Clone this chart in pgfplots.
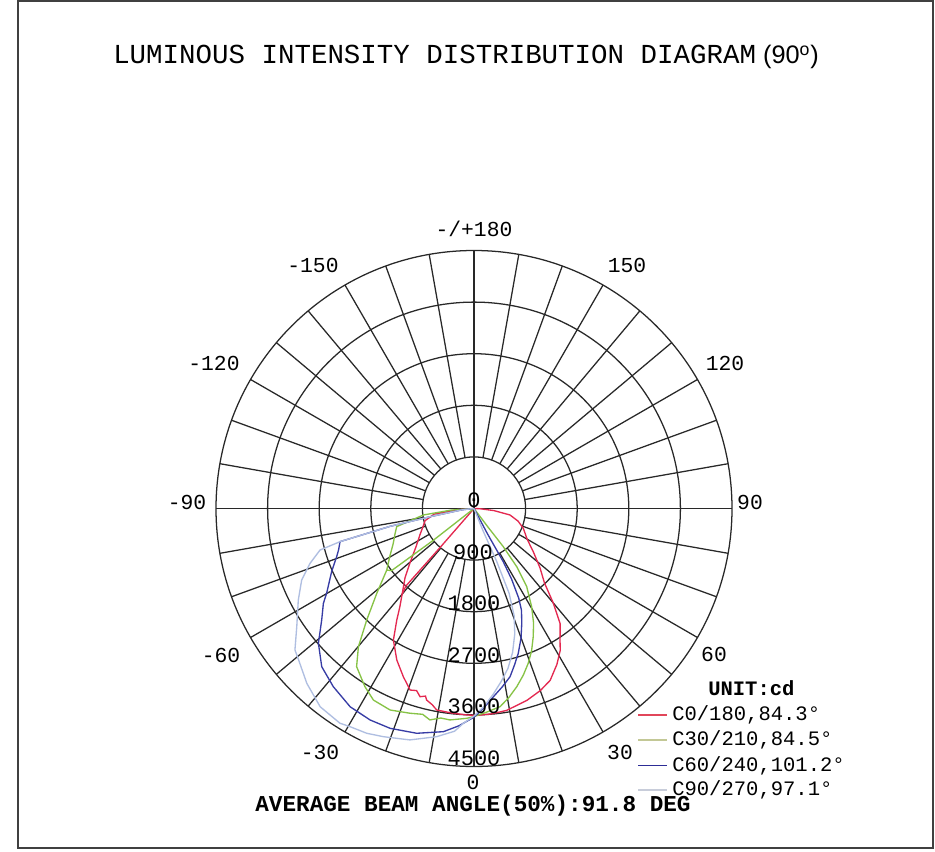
\documentclass[border=0pt]{standalone}
\usepackage{pgfplots}
\pgfplotsset{compat=1.18}
\usepackage{pgfplotstable}
\usepackage{fontspec}
\setmainfont{Liberation Sans}
\setmonofont{Liberation Mono}

\definecolor{cred}{RGB}{228,40,80}
\definecolor{cgreen}{RGB}{135,195,70}
\definecolor{cblue}{RGB}{55,60,165}
\definecolor{cpale}{RGB}{175,190,225}
\definecolor{lgred}{RGB}{225,70,90}
\definecolor{lggreen}{RGB}{195,200,150}
\definecolor{lgblue}{RGB}{45,45,150}
\definecolor{lgpale}{RGB}{200,205,218}
\definecolor{gridc}{RGB}{40,40,40}

% angle a (deg, 0 = downward, positive to the right), intensity r (cd)
\pgfplotstableread{
a r
-90 0
-86 300
-82 700
-76 880
-70 950
-64 1050
-57 1200
-50 1450
-45 1700
-40 1950
-37 2150
-34.7 2366
-31.5 2691
-27 2966
-22.8 3182
-19.4 3357
-17.5 3330
-16 3415
-14.5 3380
-13.9 3441
-12 3500
-10.5 3574
-6 3590
-2 3603
0.7 3610
5 3595
9.2 3567
15.4 3472
20 3380
23.9 3279
28 3080
31.3 2895
33.2 2740
35 2620
36.8 2507
40 2150
43.4 1790
48 1550
53.9 1280
60 1070
68.1 927
74 800
79.8 638
84 350
88 100
90 0
}\redtab
\pgfplotstableread{
a r
-41 0
-41 900
-41.3 1800
-40 1950
}\redline
\pgfplotstableread{
a r
-90 0
-86 400
-82.7 891
-76.8 1385
-72 1450
-66.7 1533
-60 1700
-54.8 1862
-48.9 2250
-43.9 2698
-39.9 3143
-36.6 3435
-31.5 3643
-27.7 3774
-22.6 3807
-17.4 3742
-14 3700
-11.8 3767
-9 3700
-6.5 3712
-2 3662
0 3628
3.5 3560
7.5 3486
10.5 3350
13.5 3196
16.5 3030
19.3 2861
22 2680
24.8 2463
27.5 2250
30.4 1986
34 1645
36.3 1259
36.5 1150
37.5 839
37 400
35 0
}\greentab
\pgfplotstableread{
a r
-52 0
-52 900
-53 1800
-54.8 1862
}\greenline
\pgfplotstableread{
a r
-90 0
-84 200
-79.4 781
-78 1500
-76.1 2407
-73 2470
-70.7 2538
-66.1 2716
-60.1 2965
-57.8 3105
-53.8 3292
-49.1 3591
-43.9 3830
-38.3 3960
-32 4077
-26.2 4110
-20.9 4104
-14.3 4046
-7.8 3929
-4 3800
0 3640
3 3470
5.9 3300
9 3150
12.1 3000
14.5 2820
17 2641
20 2400
22.6 2168
25 1960
26.5 1750
28 1400
28.8 1059
28 500
25 0
}\bluetab
\pgfplotstableread{
a r
-90 0
-84 200
-79.4 781
-78 1500
-76.1 2407
-74.9 2782
-71.5 3016
-67.5 3253
-62.5 3455
-56.3 3716
-51.7 3980
-50 4020
-43.7 4220
-37.8 4377
-32 4415
-29.6 4377
-25.5 4344
-21.7 4283
-15.5 4189
-9.3 4033
-5 3900
-2.8 3750
0 3620
3 3450
6 3250
9 3050
12 2850
15 2600
18 2300
20.5 2000
22.5 1600
23.2 1000
22 400
20 0
}\paletab

\begin{document}
\begin{tikzpicture}[x=0.75pt,y=-0.75pt]
\path[fill=white] (0,0) rectangle (935,852);
\draw[line width=0.9pt, black!75] (18,1) rectangle (933,848);

\begin{axis}[at={(355.5pt,-381.375pt)}, anchor=center,
  scale only axis, width=387pt, height=387pt,
  xmin=-4500, xmax=4500, ymin=-4500, ymax=4500,
  hide axis, clip=false]
  % grid
  \pgfplotsinvokeforeach{900,1800,2700,3600,4500}{
    \draw[gridc, line width=0.95pt] (axis cs:0,0) circle[radius=#1];
  }
  \pgfplotsinvokeforeach{0,10,...,350}{
    \draw[gridc, line width=0.95pt] (axis cs:{900*cos(#1)},{900*sin(#1)}) -- (axis cs:{4500*cos(#1)},{4500*sin(#1)});
  }
  \draw[gridc, line width=0.95pt] (axis cs:-4500,0) -- (axis cs:4500,0);
  \draw[gridc, line width=0.95pt] (axis cs:0,-4500) -- (axis cs:0,4500);
  % curves
  \addplot[no marks, cred, line width=1pt] table[x expr={\thisrow{r}*sin(\thisrow{a})}, y expr={-\thisrow{r}*cos(\thisrow{a})}] {\redtab};
  \addplot[no marks, cred, line width=1pt] table[x expr={\thisrow{r}*sin(\thisrow{a})}, y expr={-\thisrow{r}*cos(\thisrow{a})}] {\redline};
  \addplot[no marks, cgreen, line width=1pt] table[x expr={\thisrow{r}*sin(\thisrow{a})}, y expr={-\thisrow{r}*cos(\thisrow{a})}] {\greentab};
  \addplot[no marks, cgreen, line width=1pt] table[x expr={\thisrow{r}*sin(\thisrow{a})}, y expr={-\thisrow{r}*cos(\thisrow{a})}] {\greenline};
  \addplot[no marks, cblue, line width=1pt] table[x expr={\thisrow{r}*sin(\thisrow{a})}, y expr={-\thisrow{r}*cos(\thisrow{a})}] {\bluetab};
  \addplot[no marks, cpale, line width=1pt] table[x expr={\thisrow{r}*sin(\thisrow{a})}, y expr={-\thisrow{r}*cos(\thisrow{a})}] {\paletab};
\end{axis}

% title
\node[anchor=base west, inner sep=0pt] at (113,64) {\fontsize{20.6pt}{24pt}\selectfont\ttfamily LUMINOUS INTENSITY DISTRIBUTION DIAGRAM\fontsize{19pt}{24pt}\selectfont\rmfamily\ (90\textsuperscript{o})};

% angle labels
\begin{scope}[every node/.style={font=\fontsize{16pt}{18pt}\selectfont\ttfamily, inner sep=0pt, anchor=center}]
\node at (474,229) {-/+180};
\node at (313,265) {-150};
\node at (627,265) {150};
\node at (214,363) {-120};
\node at (725,363) {120};
\node at (187,502) {-90};
\node at (750,502) {90};
\node at (221,655) {-60};
\node at (714,654) {60};
\node at (320,752) {-30};
\node at (620,752) {30};
\node at (473,782) {0};
\end{scope}

% radial labels
\begin{scope}[every node/.style={font=\fontsize{16.5pt}{18pt}\selectfont\ttfamily, inner sep=0pt, anchor=center}]
\node at (474,500) {0};
\node at (473,552) {900};
\node at (474,603.5) {1800};
\node at (474,655) {2700};
\node at (474,706.5) {3600};
\node at (474,758) {4500};
\end{scope}

% legend
\node[anchor=west, inner sep=0pt, font=\fontsize{15.4pt}{17pt}\selectfont\ttfamily\bfseries] at (708,688) {UNIT:cd};
\draw[lgred, line width=1pt] (638,715) -- (667,715);
\draw[lggreen, line width=1pt] (638,740) -- (667,740);
\draw[lgblue, line width=1pt] (638,765.5) -- (667,765.5);
\draw[lgpale, line width=1pt] (638,790) -- (667,790);
\begin{scope}[every node/.style={font=\fontsize{15.4pt}{17pt}\selectfont\ttfamily, inner sep=0pt, anchor=west}]
\node at (672,715) {C0/180,84.3°};
\node at (672,740) {C30/210,84.5°};
\node at (672,765.5) {C60/240,101.2°};
\node at (672,790) {C90/270,97.1°};
\end{scope}

% bottom text
\node[inner sep=0pt, anchor=center, font=\fontsize{17pt}{19pt}\selectfont\ttfamily\bfseries] at (473,806) {AVERAGE BEAM ANGLE(50\%):91.8 DEG};
\end{tikzpicture}
\end{document}
